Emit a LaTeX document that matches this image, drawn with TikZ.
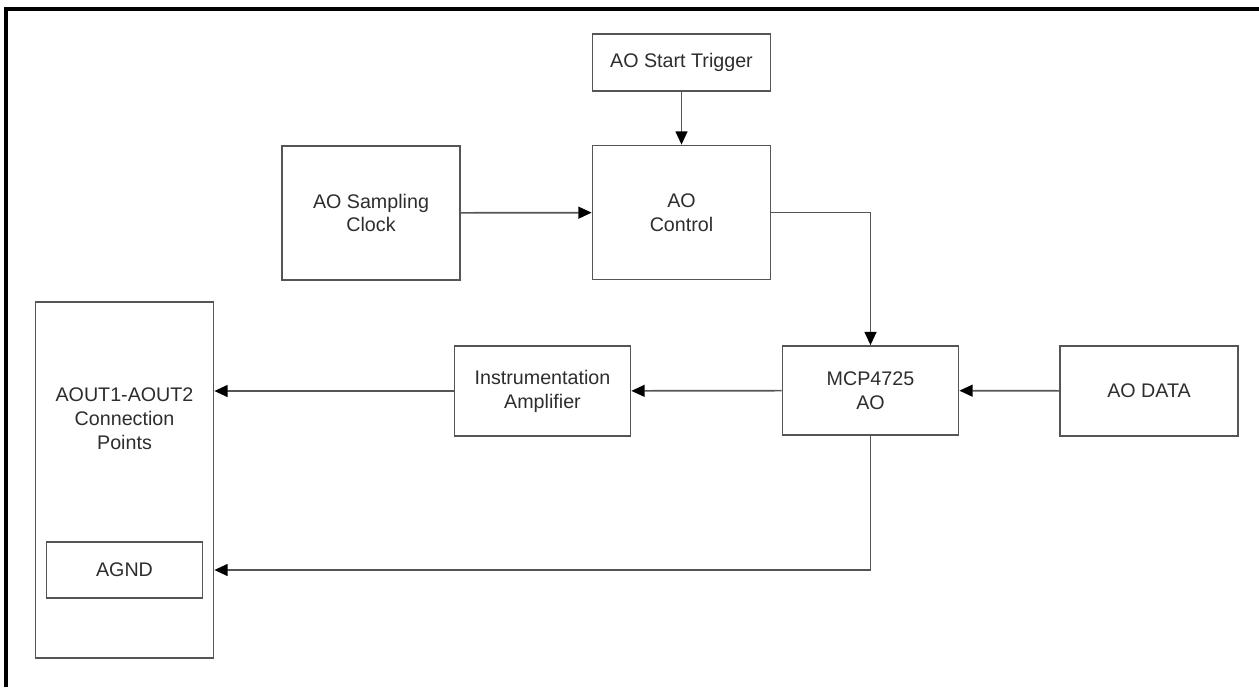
\documentclass[tikz,border=0pt]{standalone}
\usepackage{fontspec}
\setmainfont{Liberation Sans}
\usetikzlibrary{arrows.meta}

\definecolor{linegray}{RGB}{85,85,85}
\definecolor{textgray}{RGB}{45,45,45}

\begin{document}
\begin{tikzpicture}[x=0.025cm, y=-0.025cm,
        blk/.style={draw=linegray, line width=1.2pt, text=textgray, align=center,
            inner sep=0pt, font=\fontsize{14}{17}\selectfont},
        lbl/.style={text=textgray, align=center, inner sep=0pt,
            font=\fontsize{14}{17}\selectfont},
        conn/.style={draw=linegray, line width=1.2pt,
            -{Triangle[length=9.5pt, width=8.5pt, color=black]}}]
        \useasboundingbox (0,0) rectangle (1259,687);

        % Cornice (solo lati superiore e sinistro)
        \draw[line width=3pt] (6,687) -- (6,9) -- (1259,9);

        % Blocchi superiori
        \node[blk, minimum width=4.45cm, minimum height=1.425cm] (trig) at (681.5,62.5) {AO Start Trigger};
        \node[blk, minimum width=4.45cm, minimum height=3.35cm] (clk) at (371,213) {AO Sampling\\Clock};
        \node[blk, minimum width=4.45cm, minimum height=3.35cm] (ctrl) at (681.5,212.5) {AO\\Control};

        % Riga centrale
        \node[blk, minimum width=4.4cm, minimum height=2.25cm] (amp) at (542.5,391) {Instrumentation\\Amplifier};
        \node[blk, minimum width=4.4cm, minimum height=2.225cm] (dac) at (870.5,390.5) {MCP4725\\AO};
        \node[blk, minimum width=4.45cm, minimum height=2.25cm] (data) at (1149,391) {AO DATA};

        % Punti di connessione
        \node[blk, minimum width=4.45cm, minimum height=8.9cm] (cpts) at (124.5,480) {};
        \node[lbl] (cptxt) at (124.5,419) {AOUT1-AOUT2\\Connection\\Points};
        \node[blk, minimum width=3.9cm, minimum height=1.4cm] (agnd) at (124.5,570) {AGND};

        % Collegamenti
        \draw[conn] (trig) -- (ctrl);
        \draw[conn] (clk) -- (ctrl);
        \draw[conn] (ctrl.east) -| (dac.north);
        \draw[conn] (data) -- (dac);
        \draw[conn] (dac) -- (amp);
        \draw[conn] (amp.west) -- (amp.west -| cpts.east);
        \draw[conn] (dac.south) |- (agnd.east -| cpts.east);

    \end{tikzpicture}
\end{document}
